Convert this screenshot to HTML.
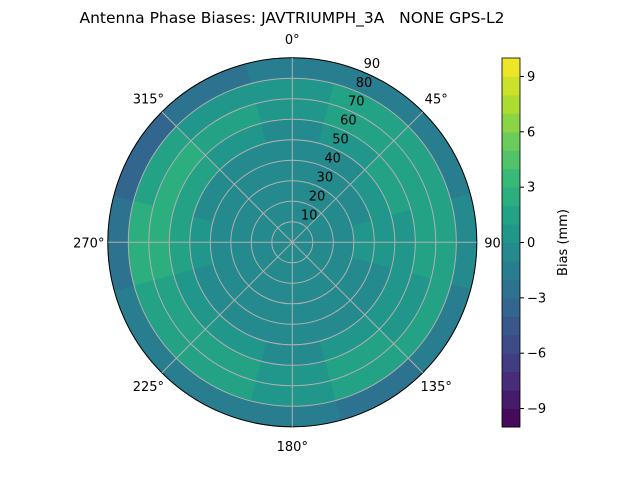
<!DOCTYPE html>
<html><head><meta charset="utf-8"><style>
body{margin:0;background:#fff;width:640px;height:480px;overflow:hidden;font-family:"Liberation Sans","DejaVu Sans",sans-serif}
svg text{font-family:"DejaVu Sans","Liberation Sans",sans-serif}
</style></head><body>
<svg id="chart" width="640" height="480" xmlns="http://www.w3.org/2000/svg">
<text x="292" y="23" font-size="15.5" text-anchor="middle">Antenna Phase Biases: JAVTRIUMPH_3A&#160;&#160;&#160;NONE GPS-L2</text>
<g id="cells"></g>
<g id="grid"></g>
<g id="cbar"></g>
</svg>
<script>
const azimuths=[0,30,60,90,120,150,180,210,240,270,300,330];
const radialBins=[0,10,20,30,40,50,60,70,80,90];
const biasRows=[
[-0.5,-0.5,-0.5,-0.5,-0.5,-0.5,-0.5,-0.5,-0.5,-0.5,-0.5,-0.5],
[-0.5,-0.5,-0.5,-0.5,-0.5,-0.5,-0.5,-0.5,-0.5,-0.5,-0.5,-0.5],
[-0.5,-0.5,-0.5,-0.5,-0.5,-0.5,-0.5,-0.5,-0.5,-0.5,-0.5,-0.5],
[-0.5,-0.5,-0.5,0.5,-0.5,-0.5,-0.5,-0.5,-0.5,-0.5,-0.5,-0.5],
[-0.5,-0.5,0.5,0.5,-0.5,-0.5,-0.5,-0.5,-0.5,0.5,-0.5,-0.5],
[-0.5,0.5,1.5,0.5,0.5,0.5,-0.5,0.5,0.5,1.5,1.5,0.5],
[0.5,1.5,1.5,1.5,0.5,1.5,0.5,1.5,1.5,2.5,2.5,1.5],
[0.5,1.5,1.5,1.5,1.5,1.5,0.5,1.5,1.5,2.5,1.5,0.5],
[-1.5,-1.5,-1.5,-0.5,-1.5,-2.5,-1.5,-1.5,-1.5,-2.5,-3.5,-2.5]];
const cbarTicks=[-9,-6,-3,0,3,6,9];
const cbarMin=-10,cbarMax=10;
const ringLabels=[10,20,30,40,50,60,70,80,90];
const angleLabels=[0,45,90,135,180,225,270,315];

const NS="http://www.w3.org/2000/svg";
const CX=292.3,CY=242.3,R=184.5,RMAX=90;
const vir=[[68,1,84],[72,40,120],[62,74,137],[49,104,142],[38,130,142],[31,158,137],[53,183,121],[109,205,89],[180,222,44],[253,231,37]];
function viridis(t){t=Math.max(0,Math.min(1,t));const s=t*(vir.length-1);const i=Math.min(vir.length-2,Math.floor(s));const f=s-i;const a=vir[i],b=vir[i+1];return `rgb(${a.map((v,k)=>Math.round(v+(b[k]-v)*f)).join(',')})`;}
function colorFor(v){const lv=Math.floor(v)+0.5;return viridis((lv-cbarMin)/(cbarMax-cbarMin));}
function rScale(r){return r/RMAX*R;}
function pt(az,r){const a=az*Math.PI/180;return [CX+rScale(r)*Math.sin(a),CY-rScale(r)*Math.cos(a)];}
function mk(tag,attrs,parent){const e=document.createElementNS(NS,tag);for(const k in attrs)e.setAttribute(k,attrs[k]);parent.appendChild(e);return e;}
const cells=document.getElementById('cells');
biasRows.forEach((row,ri)=>{row.forEach((v,ai)=>{
 const a0=azimuths[ai]-15.2,a1=azimuths[ai]+15.2,r0=radialBins[ri],r1=radialBins[ri+1];
 const p1=pt(a0,r0),p2=pt(a0,r1),p3=pt(a1,r1),p4=pt(a1,r0);
 const R1=rScale(r1),R0=rScale(r0);
 const d=`M${p1}L${p2}A${R1},${R1} 0 0 1 ${p3}L${p4}`+(r0>0?`A${R0},${R0} 0 0 0 ${p1}Z`:'Z');
 const e=mk('path',{d:d,fill:colorFor(v),stroke:colorFor(v),'stroke-width':0.6},cells);
 
 
});});
const grid=document.getElementById('grid');
ringLabels.forEach(r=>{
 const c=mk('circle',{cx:CX,cy:CY,r:rScale(r),fill:'none',stroke:r===90?'#000':'#b0b0b0','stroke-width':1},grid);
 
 
 const p=pt(22.5,r);
 const t=mk('text',{x:p[0]+9,y:p[1]-4,'font-size':13,'text-anchor':'middle'},grid);t.textContent=r;
 
 
});
angleLabels.forEach(a=>{
 const p=pt(a,90);
 const l=mk('line',{x1:CX,y1:CY,x2:p[0],y2:p[1],stroke:'#b0b0b0','stroke-width':1},grid);
 
 
 const rad=a*Math.PI/180;
 const x=CX+(R+19)*Math.sin(rad),y=CY-(R+19)*Math.cos(rad)+5;
 const t=mk('text',{x:x,y:y,'font-size':13,'text-anchor':'middle'},grid);t.textContent=a+'°';
 
 
});
const cb=document.getElementById('cbar');
const BX=502,BY=58,BW=18,BH=369;
function cy(v){return BY+BH*(cbarMax-v)/(cbarMax-cbarMin);}
for(let v=cbarMin;v<cbarMax;v++){
 const r=mk('rect',{x:BX,y:cy(v+1),width:BW,height:cy(v)-cy(v+1)+0.5,fill:colorFor(v)},cb);
 
 
}
mk('rect',{x:BX,y:BY,width:BW,height:BH,fill:'none',stroke:'#000','stroke-width':0.8},cb);
cbarTicks.forEach(v=>{
 mk('line',{x1:BX+BW,x2:BX+BW+4,y1:cy(v),y2:cy(v),stroke:'#000'},cb);
 const t=mk('text',{x:BX+BW+7,y:cy(v)+4.5,'font-size':13},cb);t.textContent=(v<0?'\u2212'+(-v):v);
 
 
});
const lab=mk('text',{x:0,y:0,'font-size':13,'text-anchor':'middle',transform:`translate(567,${BY+BH/2}) rotate(-90)`},cb);
lab.textContent='Bias (mm)';


</script>
</body></html>
